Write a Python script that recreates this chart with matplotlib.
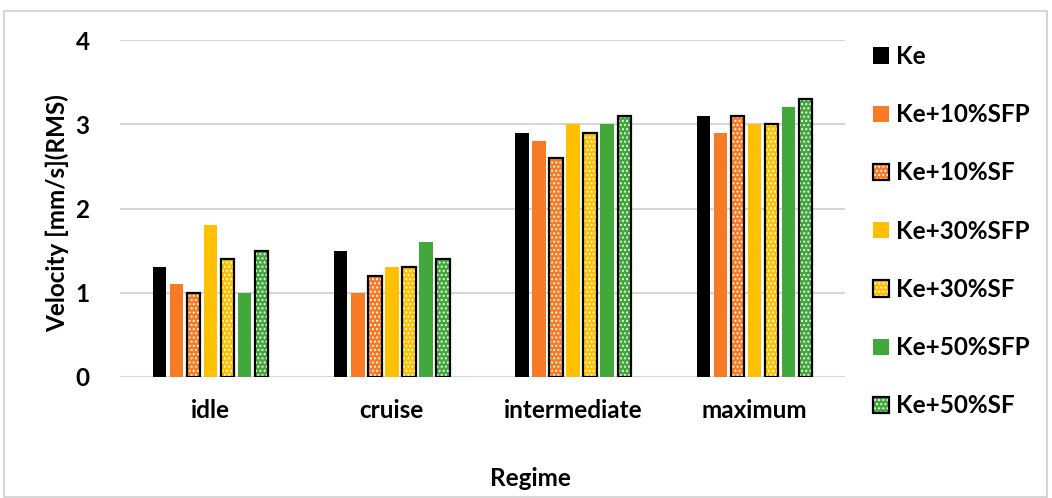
import matplotlib
matplotlib.use("Agg")
import matplotlib.pyplot as plt
import numpy as np
from matplotlib.patches import Patch, Rectangle
from matplotlib.legend_handler import HandlerTuple

categories = ["idle", "cruise", "intermediate", "maximum"]
series_names = ["Ke", "Ke+10%SFP", "Ke+10%SF", "Ke+30%SFP", "Ke+30%SF", "Ke+50%SFP", "Ke+50%SF"]
ke        = [1.3, 1.5, 2.9, 3.1]
ke10sfp   = [1.1, 1.0, 2.8, 2.9]
ke10sf    = [1.0, 1.2, 2.6, 3.1]
ke30sfp   = [1.8, 1.3, 3.0, 3.0]
ke30sf    = [1.4, 1.3, 2.9, 3.0]
ke50sfp   = [1.0, 1.6, 3.0, 3.2]
ke50sf    = [1.5, 1.4, 3.1, 3.3]
values = [ke, ke10sfp, ke10sf, ke30sfp, ke30sf, ke50sfp, ke50sf]
colors = ["#000000", "#F77B24", "#F77B24", "#FFC000", "#FFC000", "#43A83C", "#43A83C"]
patterned = [False, False, True, False, True, False, True]
yticks = [0, 1, 2, 3, 4]

plt.rcParams['font.family'] = ['Lato', 'DejaVu Sans']
plt.rcParams['font.weight'] = 'bold'
plt.rcParams['hatch.linewidth'] = 0.9

FS = 17.5
W, H = 1052, 498
fig = plt.figure(figsize=(W / 100, H / 100), dpi=100)
fig.patches.append(Rectangle((4 / W, 1 / H), 1043 / W, 486 / H, transform=fig.transFigure,
                             fill=False, edgecolor="#d0d0d0", linewidth=1.2, zorder=0))
ax = fig.add_axes([120 / W, 1 - 377 / H, 725 / W, 337 / H])

x = np.arange(len(categories))
pitch = 0.094
bw = 0.074
handles = []
for i, (vals, c, pat) in enumerate(zip(values, colors, patterned)):
    pos = x + (i - 3) * pitch
    if pat:
        ax.bar(pos, vals, bw, color=c, hatch="....", edgecolor="white", linewidth=0, zorder=3)
        ax.bar(pos, vals, bw, fill=False, edgecolor="black", linewidth=1.6, zorder=4)
        h = (Patch(facecolor=c, hatch="....", edgecolor="white", linewidth=0),
             Patch(fill=False, edgecolor="black", linewidth=1.6))
    else:
        ax.bar(pos, vals, bw, color=c, linewidth=0, zorder=3)
        h = (Patch(facecolor=c, linewidth=0),)
    handles.append(h)

ax.set_ylim(0, 4)
ax.set_xlim(-0.5, 3.5)
ax.set_yticks(yticks)
ax.set_yticklabels([str(t) for t in yticks], fontsize=FS, fontweight='bold')
ax.set_xticks(x)
ax.set_xticklabels(categories, fontsize=FS, fontweight='bold')
ax.tick_params(length=0)
ax.tick_params(axis='y', pad=22)
ax.tick_params(axis='x', pad=16)
for s in ax.spines.values():
    s.set_visible(False)
ax.yaxis.grid(True, color="#d6d6d6", linewidth=1.5, zorder=0)
ax.set_axisbelow(True)

fig.text(57 / W, 1 - 213 / H, "Velocity [mm/s](RMS)", fontsize=FS, fontweight='bold',
         rotation=90, ha='center', va='center')
fig.text(530 / W, 1 - 478 / H, "Regime", fontsize=FS, fontweight='bold', ha='center', va='center')

leg = fig.legend(handles, series_names, loc='upper left', bbox_to_anchor=(873 / W, 1 - 45 / H),
                 frameon=False, prop={'weight': 'bold', 'size': FS},
                 handler_map={tuple: HandlerTuple(ndivide=1, pad=0)},
                 handlelength=0.65, handleheight=0.65, handletextpad=0.3, labelspacing=1.45,
                 borderpad=0, borderaxespad=0)

fig.savefig("out.png", dpi=100)
